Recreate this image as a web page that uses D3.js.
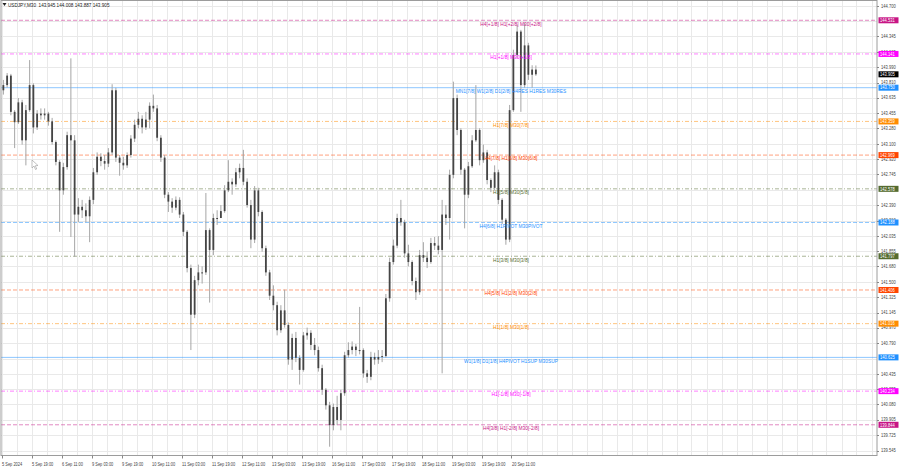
<!DOCTYPE html>
<html><head><meta charset="utf-8">
<script src="https://cdn.jsdelivr.net/npm/d3@7/dist/d3.min.js"></script>
<style>
body{margin:0;background:#fff}
svg{display:block;font-family:"Liberation Sans",Arial,sans-serif}
</style>
</head><body><svg id="c" width="900" height="468"></svg>
<script>
// ---- data (USDJPY M30, aggregated 4-bar samples) ----
const opens=[143.72,143.78,143.89,143.47,143.35,143.58,143.14,143.49,143.78,143.29,
143.45,143.43,143.45,143.36,143.12,142.89,142.56,142.83,143.20,143.14,
142.28,142.37,142.33,142.26,142.45,142.77,142.95,142.90,142.87,143.00,
143.72,142.94,142.88,142.85,142.97,143.16,143.32,143.39,143.29,143.38,
143.54,143.51,143.17,142.94,142.51,142.43,142.36,142.45,142.28,142.08,
141.66,141.12,141.52,141.61,141.61,142.10,141.87,142.24,142.24,142.32,
142.56,142.66,142.63,142.77,142.82,142.66,142.39,141.99,142.56,142.31,
141.89,141.61,141.34,141.23,140.94,141.17,141.00,140.60,140.85,140.62,
140.48,140.88,140.91,140.77,140.71,140.50,140.25,140.07,139.84,140.05,
139.90,140.21,140.65,140.71,140.75,140.71,140.71,140.44,140.40,140.63,
140.60,140.63,140.64,141.31,141.73,141.92,142.24,142.19,141.83,141.73,
141.51,141.38,141.81,141.78,141.73,141.95,141.92,141.87,142.28,142.24,
142.74,143.63,143.26,142.80,142.51,142.84,143.14,143.26,142.91,143.00,
142.68,142.59,142.77,142.45,142.22,141.99,143.49,144.13,144.40,143.78,
144.24,143.90,143.96];
const highs=[143.84,143.92,143.91,143.49,143.63,143.61,143.55,144.07,143.80,143.49,
143.51,143.51,143.47,143.40,143.14,142.91,142.88,143.24,144.09,143.20,
142.47,142.45,142.41,142.49,142.82,143.00,142.99,142.97,143.05,143.79,
143.75,142.97,142.95,143.00,143.20,143.38,143.47,143.43,143.47,143.58,
143.67,143.55,143.20,142.97,142.54,142.47,142.49,142.48,142.31,142.10,
141.70,141.57,141.70,141.68,142.53,142.12,142.29,142.33,142.39,142.62,
142.91,142.70,142.82,142.87,143.03,142.70,142.45,142.61,142.59,142.33,
141.92,141.64,141.46,141.27,141.23,141.41,141.03,140.90,140.92,140.65,
140.92,140.97,140.94,140.85,140.75,140.54,140.27,140.11,140.09,140.18,
140.25,140.69,140.80,140.81,140.78,141.21,140.73,140.48,140.69,140.68,
140.71,140.71,141.36,141.78,141.99,142.29,142.45,142.22,141.93,141.75,
141.55,141.87,141.96,141.85,142.01,142.02,142.03,142.45,142.39,142.80,
143.82,143.67,143.28,142.82,142.89,143.20,143.78,143.28,143.09,143.03,
142.70,142.85,142.80,142.47,142.24,143.55,144.19,144.48,144.42,144.50,
144.27,144.01,144.008];
const lows=[143.67,143.75,143.43,143.05,143.33,143.09,142.85,143.47,143.22,143.26,
143.38,143.38,143.31,143.09,142.85,142.08,142.51,142.80,142.02,141.79,
142.19,142.24,142.19,141.96,142.40,142.74,142.84,142.80,142.83,142.97,
142.89,142.73,142.80,142.82,142.94,143.12,143.28,143.22,143.26,143.28,
143.47,143.13,142.89,142.47,142.31,142.30,142.33,142.24,142.03,141.61,
140.71,141.08,141.46,141.48,141.58,141.26,141.81,142.16,142.24,142.30,
142.54,142.51,142.60,142.70,142.62,142.36,141.89,141.95,142.26,141.85,
141.57,141.29,141.17,140.88,140.91,140.97,140.54,140.48,140.57,140.31,
140.46,140.83,140.71,140.65,140.46,140.19,140.02,139.59,139.78,139.84,
139.78,140.18,140.62,140.66,140.64,140.66,140.39,140.33,140.36,140.54,
140.55,140.57,140.62,141.27,141.70,141.89,142.15,141.78,141.68,141.46,
141.29,141.35,141.73,141.66,141.71,141.87,141.82,140.44,142.16,141.99,
142.70,143.20,142.74,142.12,142.47,142.82,143.12,142.85,142.88,142.63,
142.54,142.56,142.40,142.17,141.93,141.96,143.47,144.09,143.47,143.75,
143.84,143.75,143.887];
const closes=[143.78,143.89,143.47,143.35,143.58,143.14,143.49,143.78,143.29,143.45,
143.43,143.45,143.36,143.12,142.89,142.56,142.83,143.20,143.14,142.28,
142.37,142.33,142.26,142.45,142.77,142.95,142.90,142.87,143.00,143.72,
142.94,142.88,142.85,142.97,143.16,143.32,143.39,143.29,143.38,143.54,
143.51,143.17,142.94,142.51,142.43,142.36,142.45,142.28,142.08,141.66,
141.12,141.52,141.61,141.61,142.10,141.87,142.24,142.24,142.32,142.56,
142.66,142.63,142.77,142.82,142.66,142.39,141.99,142.56,142.31,141.89,
141.61,141.34,141.23,140.94,141.17,141.00,140.60,140.85,140.62,140.48,
140.88,140.91,140.77,140.71,140.50,140.25,140.07,139.84,140.05,139.90,
140.21,140.65,140.71,140.75,140.71,140.71,140.44,140.40,140.63,140.60,
140.63,140.64,141.31,141.73,141.92,142.24,142.19,141.83,141.73,141.51,
141.38,141.81,141.78,141.73,141.95,141.92,141.87,142.28,142.24,142.74,
143.63,143.26,142.80,142.51,142.84,143.14,143.26,142.91,143.00,142.68,
142.59,142.77,142.45,142.22,141.99,143.49,144.13,144.40,143.78,144.24,
143.90,143.96,143.905];
const barsPerSample=4;

const timeLabels=["5 Sep 2024","5 Sep 19:00","6 Sep 11:00","9 Sep 03:00","9 Sep 19:00","10 Sep 11:00",
"11 Sep 03:00","11 Sep 19:00","12 Sep 11:00","13 Sep 03:00","13 Sep 19:00","16 Sep 11:00",
"17 Sep 03:00","17 Sep 19:00","18 Sep 11:00","19 Sep 03:00","19 Sep 19:00","20 Sep 11:00"];
const barsPerTimeLabel=32;

const priceTicks=[144.700,144.345,144.165,143.990,143.810,143.635,143.455,143.280,143.100,
142.920,142.745,142.390,142.210,142.035,141.855,141.680,141.500,141.325,141.145,
140.970,140.790,140.435,140.255,140.080,139.905,139.725,139.545];
const hiddenTicks=[144.525,142.565,140.610]; // grid lines whose labels sit under level boxes

const levelValues=[144.531,144.141,143.750,143.359,142.969,142.578,142.188,141.797,141.406,141.016,140.625,140.234,139.844];
const levelNames=["H4[+1/8] H1[+2/8] M30[+2/8]","H1[+1/8] M30[+1/8]","MN1[7/8] W1[2/8] D1[2/8] H4RES H1RES M30RES",
"H1[7/8] M30[7/8]","H4[7/8] H1[6/8] M30[6/8]","H1[5/8] M30[5/8]","H4[6/8] H1PIVOT M30PIVOT",
"H1[3/8] M30[3/8]","H4[5/8] H1[2/8] M30[2/8]","H1[1/8] M30[1/8]","W1[1/8] D1[1/8] H4PIVOT H1SUP M30SUP",
"H1[-1/8] M30[-1/8]","H4[3/8] H1[-2/8] M30[-2/8]"];
const levelColors=["#c71585","#ff00ff","#1e90ff","#ff8c00","#ff4500","#556b2f","#1e90ff","#556b2f","#ff4500","#ff8c00","#1e90ff","#ff00ff","#c71585"];
const levelStyles=["dash","dashdot","solid","dashdot","dash","dashdot","dash","dashdot","dash","dashdot","solid","dashdot","dash"];

const symbolHeader="USDJPY,M30  143.945 144.008 143.887 143.905";
const lastPrice=143.905;

// ---- layout ----
const svg=d3.select("#c");
const L=1, R=877, T=0.5, B=455.5;
const y=d3.scaleLinear().domain([139.545,144.700]).range([450.6,5.7]);
const x=d3.scaleLinear().domain([0,(R-1.5)*32/30]).range([1.5,R]);
function squeeze(sel,r){sel.each(function(){const w=this.getComputedTextLength();this.setAttribute("textLength",w*r);this.setAttribute("lengthAdjust","spacingAndGlyphs");});}

// grid
const g=svg.append("g");
const vGrid=d3.range(0,(R-1.5)*32/30,16);
g.selectAll("line.v").data(vGrid).join("line")
 .attr("x1",d=>Math.round(x(d))+0.5).attr("x2",d=>Math.round(x(d))+0.5)
 .attr("y1",T).attr("y2",B).attr("stroke","#e9e9e9").attr("stroke-width",1);
g.selectAll("line.h").data(priceTicks.concat(hiddenTicks)).join("line")
 .attr("x1",L).attr("x2",R).attr("y1",d=>Math.round(y(d))+0.5).attr("y2",d=>Math.round(y(d))+0.5)
 .attr("stroke","#e9e9e9").attr("stroke-width",1);

// level lines
const dashMap={dash:"4,2",dashdot:"4,2,1,2",solid:null};
svg.append("g").selectAll("line").data(levelValues).join("line")
 .attr("x1",L).attr("x2",R).attr("y1",d=>y(d)).attr("y2",d=>y(d))
 .attr("stroke",(d,i)=>levelColors[i]).attr("stroke-opacity",0.5).attr("stroke-width",1)
 .attr("stroke-dasharray",(d,i)=>dashMap[levelStyles[i]]);

// bars
const idx=d3.range(closes.length);
const bg=svg.append("g");
bg.selectAll("line").data(idx).join("line")
 .attr("x1",i=>x(i*barsPerSample+2)).attr("x2",i=>x(i*barsPerSample+2))
 .attr("y1",i=>y(highs[i])).attr("y2",i=>y(lows[i]))
 .attr("stroke","#a6a6a6").attr("stroke-width",1);
bg.selectAll("rect").data(idx).join("rect")
 .attr("x",i=>x(i*barsPerSample+2)-0.9).attr("width",1.8)
 .attr("y",i=>Math.min(y(opens[i]),y(closes[i])))
 .attr("height",i=>Math.max(1,Math.abs(y(opens[i])-y(closes[i]))))
 .attr("fill","#454545");

// level labels
const lt=svg.append("g").selectAll("text").data(levelValues).join("text")
 .attr("x",511).attr("y",d=>y(d)+5.3).attr("text-anchor","middle")
 .attr("font-size",5.4).attr("fill",(d,i)=>levelColors[i]).text((d,i)=>levelNames[i]);
squeeze(lt,0.9);

// frame
svg.append("rect").attr("x",L).attr("y",T).attr("width",R-L).attr("height",B-T)
 .attr("fill","none").attr("stroke","#9c9c9c").attr("stroke-width",1);

// right axis
const ax=svg.append("g");
ax.selectAll("line").data(priceTicks).join("line")
 .attr("x1",R).attr("x2",R+2).attr("y1",d=>Math.round(y(d))+0.5).attr("y2",d=>Math.round(y(d))+0.5).attr("stroke","#888");
const tt=ax.selectAll("text").data(priceTicks).join("text")
 .attr("x",R+4).attr("y",d=>y(d)+1.8).attr("font-size",5.2).attr("fill","#444")
 .text(d=>d3.format(".3f")(d));
squeeze(tt,0.78);

// bottom axis
const tb=svg.append("g");
tb.selectAll("line").data(timeLabels).join("line")
 .attr("x1",(d,i)=>Math.round(x(i*barsPerTimeLabel))+0.5).attr("x2",(d,i)=>Math.round(x(i*barsPerTimeLabel))+0.5)
 .attr("y1",B).attr("y2",B+3).attr("stroke","#888");
const bt=tb.selectAll("text").data(timeLabels).join("text")
 .attr("x",(d,i)=>x(i*barsPerTimeLabel)+0.5).attr("y",465.5).attr("font-size",5.2).attr("fill","#444").text(d=>d);
squeeze(bt,0.76);

// right price boxes
const boxes=levelValues.map((v,i)=>({v,c:levelColors[i]})).concat([{v:lastPrice,c:"#000"}]);
const bx=svg.append("g").selectAll("g").data(boxes).join("g");
bx.append("rect").attr("x",R+1.5).attr("y",d=>y(d.v)-3).attr("width",20).attr("height",6).attr("fill",d=>d.c);
const bxt=bx.append("text").attr("x",R+3).attr("y",d=>y(d.v)+1.8).attr("font-size",5.2).attr("fill","#fff")
 .text(d=>d3.format(".3f")(d.v));
squeeze(bxt,0.78);

// header
svg.append("path").attr("d","M2.5,3 L6.5,3 L4.5,6 Z").attr("fill","#222");
const ht=svg.append("text").attr("x",8).attr("y",6.8).attr("font-size",5.4).attr("fill","#222").attr("xml:space","preserve").text(symbolHeader);
squeeze(ht,0.86);

// mouse cursor left on the chart
svg.append("path").attr("d","M32,160 L32,168 L34,166 L35.5,169.5 L36.7,169 L35.3,165.7 L38,165.5 Z")
 .attr("fill","#fff").attr("stroke","#999").attr("stroke-width",0.6);
</script>
</body></html>
